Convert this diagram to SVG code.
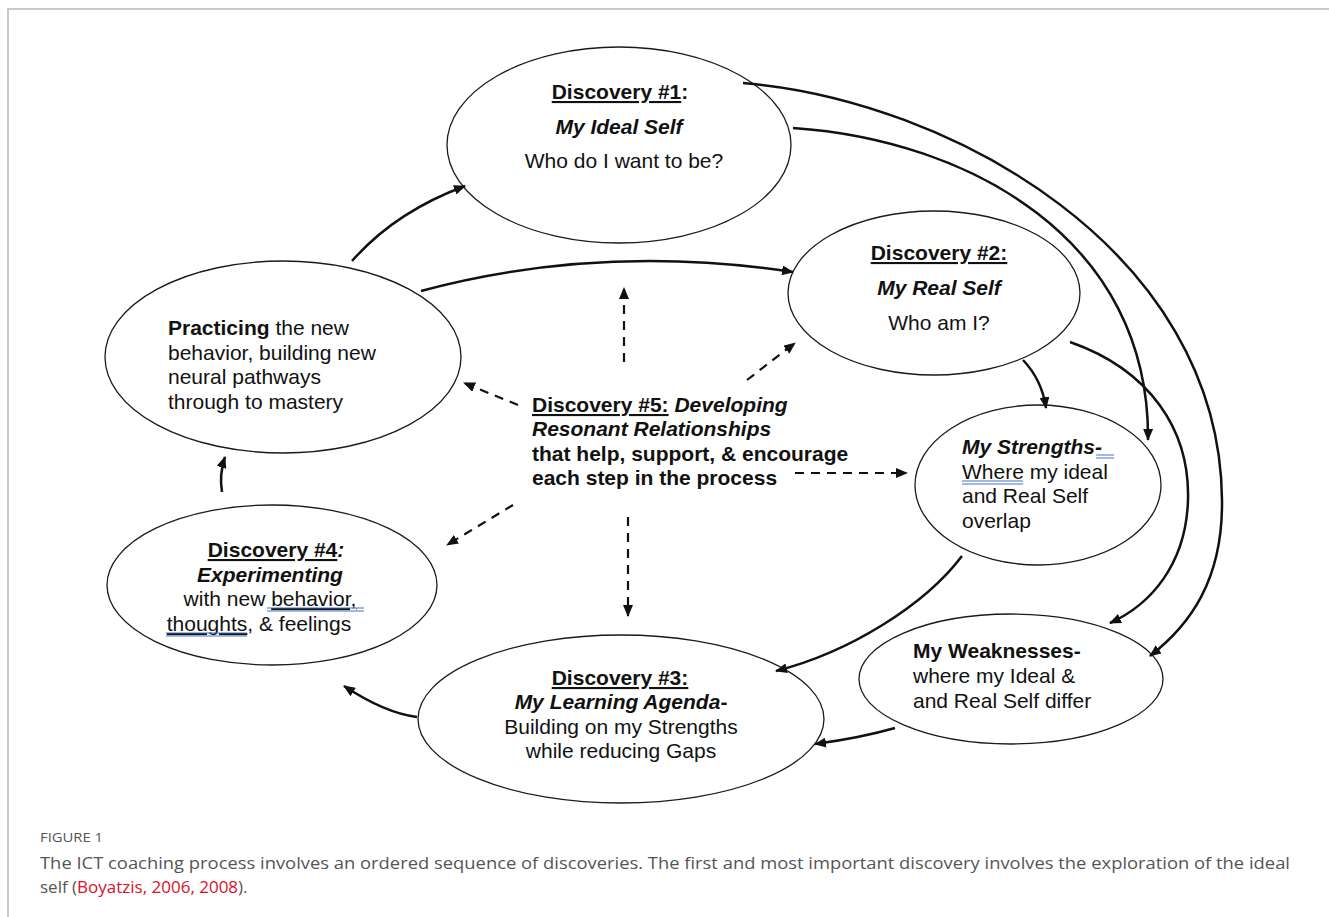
<svg xmlns="http://www.w3.org/2000/svg" width="1329" height="917" viewBox="0 0 1329 917">
<defs>
<style>
.node ellipse{fill:#fff;stroke:#1a1a1a;stroke-width:1.3}
.t{font-family:"Liberation Sans",Arial,sans-serif;font-size:21px;fill:#111}
.b{font-weight:bold}
.i{font-style:italic}
.u{text-decoration:underline}
.c{text-anchor:middle}
.conn path{fill:none;stroke:#111;stroke-width:2.5}
.conn path.d{stroke-width:2.2;stroke-dasharray:9 7}
.wavy{stroke:#4472c4;stroke-width:1.2;fill:none}
.cap{font-family:"Open Sans","Noto Sans",sans-serif;fill:#555}
</style>
<marker id="ah" viewBox="0 0 12 10" refX="11" refY="5" markerWidth="12" markerHeight="10" markerUnits="userSpaceOnUse" orient="auto">
<path d="M0,0 L12,5 L0,10 Z" fill="#111"/>
</marker>
</defs>
<rect width="1329" height="917" fill="#fff"/>
<path d="M8,917 V9 H1329" fill="none" stroke="#c8c8c8" stroke-width="2"/>

<g id="n1" class="node">
<ellipse cx="619" cy="145" rx="172" ry="98"/>
<text class="t c b" x="620" y="99"><tspan class="u">Discovery #1</tspan>:</text>
<text class="t c b i" x="619" y="134">My Ideal Self</text>
<text class="t c" x="624" y="168">Who do I want to be?</text>
</g>

<g id="n2" class="node">
<ellipse cx="934" cy="293" rx="146" ry="82"/>
<text class="t c b u" x="939" y="260">Discovery #2:</text>
<text class="t c b i" x="939" y="295">My Real Self</text>
<text class="t c" x="939" y="330">Who am I?</text>
</g>

<g id="n3" class="node">
<ellipse cx="1038" cy="485" rx="123" ry="80"/>
<text class="t" x="962" y="454"><tspan class="b i">My Strengths-</tspan></text>
<text class="t" x="962" y="479">Where my ideal</text>
<text class="t" x="962" y="503">and Real Self</text>
<text class="t" x="962" y="528">overlap</text>
<path class="wavy" d="M1096,455 H1114 M1096,458 H1114 M962,481 H1023 M962,484 H1023"/>
</g>

<g id="n4" class="node">
<ellipse cx="1011" cy="679" rx="152" ry="65"/>
<text class="t b" x="913" y="658">My Weaknesses-</text>
<text class="t" x="913" y="683">where my Ideal &amp;</text>
<text class="t" x="913" y="708">and Real Self differ</text>
</g>

<g id="n5" class="node">
<ellipse cx="621" cy="719" rx="203" ry="84"/>
<text class="t c b u" x="620" y="685">Discovery #3:</text>
<text class="t c b" x="621" y="709"><tspan class="i">My Learning Agenda</tspan>-</text>
<text class="t c" x="621" y="734">Building on my Strengths</text>
<text class="t c" x="621" y="758">while reducing Gaps</text>
</g>

<g id="n6" class="node">
<ellipse cx="272" cy="585" rx="165" ry="80"/>
<text class="t c b" x="276" y="557"><tspan class="u">Discovery #4</tspan><tspan class="i">:</tspan></text>
<text class="t c b i" x="270" y="582">Experimenting</text>
<text class="t c" x="270" y="606">with new <tspan class="u">behavior,</tspan></text>
<text class="t c" x="259" y="631"><tspan class="u">thoughts</tspan>, &amp; feelings</text>
<path class="wavy" d="M267,608 H364 M267,611 H364 M166,633 H247 M166,636 H247"/>
</g>

<g id="n7" class="node">
<ellipse cx="283" cy="357" rx="178" ry="96"/>
<text class="t" x="168" y="335"><tspan class="b">Practicing</tspan> the new</text>
<text class="t" x="168" y="360">behavior, building new</text>
<text class="t" x="168" y="384">neural pathways</text>
<text class="t" x="168" y="409">through to mastery</text>
</g>

<g id="n8">
<text class="t b" x="532" y="412"><tspan class="u">Discovery #5:</tspan> <tspan class="i">Developing</tspan></text>
<text class="t b i" x="532" y="436">Resonant Relationships</text>
<text class="t b" x="532" y="461">that help, support, &amp; encourage</text>
<text class="t b" x="532" y="485">each step in the process</text>
</g>

<g id="connectors" class="conn">
<path d="M352,261 Q395,212 465,186" marker-end="url(#ah)"/>
<path d="M421,291 Q600,243 793,272" marker-end="url(#ah)"/>
<path d="M793,128 C970,140 1150,240 1148,440" marker-end="url(#ah)"/>
<path d="M743,83 C950,100 1220,250 1222,500 C1223,580 1190,625 1150,656" marker-end="url(#ah)"/>
<path d="M1023,360 Q1042,380 1046,408" marker-end="url(#ah)"/>
<path d="M1070,342 C1150,370 1190,430 1188,500 C1186,565 1150,605 1110,623" marker-end="url(#ah)"/>
<path d="M962,556 C925,605 850,652 776,671" marker-end="url(#ah)"/>
<path d="M895,728 Q860,738 815,744" marker-end="url(#ah)"/>
<path d="M417,717 Q385,713 344,686" marker-end="url(#ah)"/>
<path d="M222,492 Q219,475 225,457" marker-end="url(#ah)"/>
<path class="d" d="M624,362 V288" marker-end="url(#ah)"/>
<path class="d" d="M747,380 L795,343" marker-end="url(#ah)"/>
<path class="d" d="M518,405 L464,383" marker-end="url(#ah)"/>
<path class="d" d="M795,473 H907" marker-end="url(#ah)"/>
<path class="d" d="M628,517 V616" marker-end="url(#ah)"/>
<path class="d" d="M513,505 L447,545" marker-end="url(#ah)"/>
</g>

<g id="caption">
<text class="cap" x="40" y="842" font-size="13" textLength="63" lengthAdjust="spacingAndGlyphs" fill="#666">FIGURE 1</text>
<text class="cap" x="40" y="869" font-size="17" textLength="1250" lengthAdjust="spacingAndGlyphs">The ICT coaching process involves an ordered sequence of discoveries. The first and most important discovery involves the exploration of the ideal</text>
<text class="cap" x="40" y="893" font-size="17">self (<tspan fill="#d8122a">Boyatzis, 2006, 2008</tspan>).</text>
</g>
</svg>
